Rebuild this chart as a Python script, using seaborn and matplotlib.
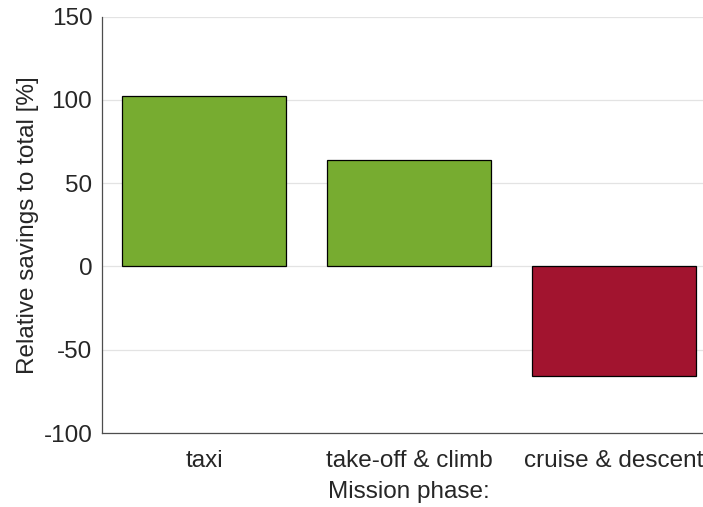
import matplotlib
matplotlib.use("Agg")
import matplotlib.pyplot as plt
import seaborn as sns
import pandas as pd

# Mission phases and their relative savings contribution
phases = ["taxi", "take-off & climb", "cruise & descent"]
savings = [102.2, 63.7, -65.6]
bar_colors = ["#77AC30", "#77AC30", "#A2142F"]
y_ticks = [-100, -50, 0, 50, 100, 150]

sns.set_theme(style="white")
plt.rcParams["font.family"] = ["Liberation Sans", "DejaVu Sans"]

text_color = "#262626"
font_size = 17.5
W, H = 703, 507
fig = plt.figure(figsize=(W / 100, H / 100), dpi=100)
left, right, top, bottom = 102, 716.5, 16.7, 433
ax = fig.add_axes([left / W, (H - bottom) / H, (right - left) / W, (bottom - top) / H])

df = pd.DataFrame({"phase": phases, "savings": savings})
sns.barplot(data=df, x="phase", y="savings", hue="phase", palette=bar_colors,
            legend=False, width=0.8, edgecolor="black", linewidth=0.9,
            saturation=1, ax=ax, zorder=3)

ax.set_xlim(-0.5, 2.5)
ax.set_ylim(-100, 150)
ax.set_yticks(y_ticks)
ax.set_yticklabels([str(t) for t in y_ticks])
ax.yaxis.grid(True, color="#e3e3e3", linewidth=0.9, zorder=0)
ax.set_axisbelow(True)

for side in ["top", "right"]:
    ax.spines[side].set_visible(False)
for side in ["left", "bottom"]:
    ax.spines[side].set_color("#4d4d4d")
    ax.spines[side].set_linewidth(0.9)

ax.tick_params(axis="both", direction="in", length=5, width=0.9, color="#4d4d4d",
               labelsize=font_size, labelcolor=text_color)
ax.tick_params(axis="x", pad=12.5)
ax.tick_params(axis="y", pad=7)

ax.set_xlabel("Mission phase:", fontsize=font_size, color=text_color, labelpad=6)
ax.set_ylabel("Relative savings to total [%]", fontsize=font_size, color=text_color, labelpad=3)

fig.savefig("out.png", dpi=100, facecolor="white")
